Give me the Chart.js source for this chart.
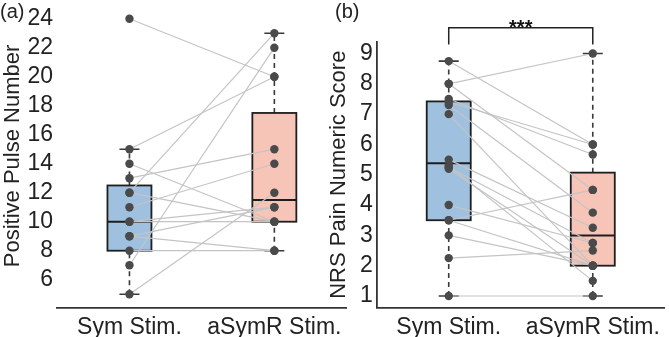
<!DOCTYPE html>
<html>
<head>
<meta charset="utf-8">
<script src="https://cdn.jsdelivr.net/npm/chart.js@4/dist/chart.umd.min.js"></script>
<style>
body{margin:0;background:#fff;width:669px;height:337px;position:relative;overflow:hidden;font-family:"Liberation Sans",Arial,sans-serif;}
canvas{position:absolute;top:0;}
.lbl{position:absolute;top:0px;font-size:20px;color:#222;}
</style>
</head>
<body>
<canvas id="chartA" width="351" height="337" style="left:0"></canvas>
<canvas id="chartB" width="343" height="337" style="left:326px"></canvas>
<div class="lbl" style="left:0">(a)</div>
<div class="lbl" style="left:335px">(b)</div>
<script>
// groups on the x axis
var groups = ["Sym Stim.", "aSymR Stim."];

// (a) positive pulse number, one entry per subject (sym -> asymR)
var pulseSym  = [24, 15, 14, 13, 12, 12, 11, 10, 10, 9, 9, 8, 7, 5];
var pulseASym = [20, 20, 10, 15, 23, 10, 14, 10, 11, 11, 8, 8, 22, 12];
var pulseTicks = [6, 8, 10, 12, 14, 16, 18, 20, 22, 24];
// whisker low, q1, median, q3, whisker high
var pulseBoxSym  = [5, 8, 10, 12.5, 15];
var pulseBoxASym = [8, 10, 11.5, 17.5, 23];

// (b) NRS pain score
var nrsSym  = [8.75, 8, 8, 7.5, 7.4, 7.3, 7, 5.5, 5.3, 5.25, 5.2, 4, 3.5, 3.5, 3, 2.25, 1];
var nrsASym = [6, 9, 4.5, 5.67, 6, 3.75, 2, 3.25, 1.5, 2.75, 2, 2.75, 4.5, 2, 2, 2.5, 1];
var nrsTicks = [1, 2, 3, 4, 5, 6, 7, 8, 9];
var nrsBoxSym  = [1, 3.5, 5.38, 7.42, 8.75];
var nrsBoxASym = [1, 2, 3, 5.07, 9];
var nrsSig = "***";
var nrsBracket = [9.85, 9.3];

var boxColors = ["#a0c0e0", "#f7c5b8"];
var textColor = "#222";
var fontFam = "'Liberation Sans', Arial, sans-serif";

function boxPlugin(stats){
    return {
        id: "boxes",
        beforeDatasetsDraw: function(chart){
            var ctx = chart.ctx;
            var xs = chart.scales.x, ys = chart.scales.y;
            ctx.save();
            for(var g = 0; g < stats.length; g++){
                var s = stats[g];
                var cx = xs.getPixelForValue(g);
                // whiskers
                ctx.strokeStyle = "#3a3a3a";
                ctx.lineWidth = 1.6;
                ctx.setLineDash([5, 4]);
                ctx.beginPath();
                ctx.moveTo(cx, ys.getPixelForValue(s[0]));
                ctx.lineTo(cx, ys.getPixelForValue(s[1]));
                ctx.moveTo(cx, ys.getPixelForValue(s[3]));
                ctx.lineTo(cx, ys.getPixelForValue(s[4]));
                ctx.stroke();
                ctx.setLineDash([]);
                // caps
                ctx.beginPath();
                ctx.moveTo(cx - 10, ys.getPixelForValue(s[0]));
                ctx.lineTo(cx + 10, ys.getPixelForValue(s[0]));
                ctx.moveTo(cx - 10, ys.getPixelForValue(s[4]));
                ctx.lineTo(cx + 10, ys.getPixelForValue(s[4]));
                ctx.stroke();
                // box
                var top = ys.getPixelForValue(s[3]);
                var bot = ys.getPixelForValue(s[1]);
                ctx.fillStyle = boxColors[g];
                ctx.fillRect(cx - 22, top, 44, bot - top);
                ctx.strokeStyle = "#1e1e1e";
                ctx.lineWidth = 1.8;
                ctx.strokeRect(cx - 22, top, 44, bot - top);
                // median
                ctx.lineWidth = 2;
                ctx.beginPath();
                ctx.moveTo(cx - 22, ys.getPixelForValue(s[2]));
                ctx.lineTo(cx + 22, ys.getPixelForValue(s[2]));
                ctx.stroke();
            }
            ctx.restore();
        }
    };
}

var sigPlugin = {
    id: "sig",
    afterDraw: function(chart){
        var ctx = chart.ctx;
        var xs = chart.scales.x, ys = chart.scales.y;
        var x0 = xs.getPixelForValue(0), x1 = xs.getPixelForValue(1);
        var yTop = ys.getPixelForValue(nrsBracket[0]);
        var yLeg = ys.getPixelForValue(nrsBracket[1]);
        ctx.save();
        ctx.strokeStyle = "#222";
        ctx.lineWidth = 1.5;
        ctx.beginPath();
        ctx.moveTo(x0, yLeg);
        ctx.lineTo(x0, yTop);
        ctx.lineTo(x1, yTop);
        ctx.lineTo(x1, yLeg);
        ctx.stroke();
        ctx.fillStyle = "#111";
        ctx.font = "bold 20px " + fontFam;
        ctx.textAlign = "center";
        ctx.textBaseline = "alphabetic";
        ctx.fillText(nrsSig, (x0 + x1) / 2, yTop + 6);
        ctx.restore();
    }
};

function makeChart(id, symVals, asymVals, stats, ticks, yMin, yMax, title, opts){
    var datasets = [];
    for(var i = 0; i < symVals.length; i++){
        datasets.push({
            data: [symVals[i], asymVals[i]],
            borderColor: "#c4c4c4",
            borderWidth: 1.2,
            pointRadius: 0,
            order: 2
        });
    }
    var pts = [];
    for(var a = 0; a < symVals.length; a++){
        pts.push({x: groups[0], y: symVals[a]});
        pts.push({x: groups[1], y: asymVals[a]});
    }
    datasets.push({
        type: "scatter",
        data: pts,
        showLine: false,
        pointRadius: 4.2,
        pointBackgroundColor: "#4a4a4a",
        pointBorderWidth: 0,
        order: 1
    });

    var plugins = [boxPlugin(stats)];
    if(opts.sig) plugins.push(sigPlugin);

    return new Chart(document.getElementById(id).getContext("2d"), {
        type: "line",
        data: { labels: groups, datasets: datasets },
        plugins: plugins,
        options: {
            responsive: false,
            animation: false,
            layout: { padding: { top: opts.top, right: opts.right, left: 0, bottom: 0 } },
            plugins: { legend: { display: false }, tooltip: { enabled: false } },
            scales: {
                x: {
                    type: "category",
                    offset: true,
                    grid: { display: true, drawOnChartArea: false, drawTicks: false },
                    border: { display: true, color: "#333", width: 1.8 },
                    ticks: { color: textColor, font: { family: fontFam, size: 23 }, padding: 6, maxRotation: 0 },
                    afterFit: function(s){ s.height = 29.3; s.paddingLeft = 0; s.paddingRight = 0; }
                },
                y: {
                    min: yMin,
                    max: yMax,
                    afterBuildTicks: function(s){ s.ticks = ticks.map(function(v){ return {value: v}; }); },
                    grid: { display: true, drawOnChartArea: false, drawTicks: false },
                    border: { display: opts.yBorder, color: "#333", width: 1.8 },
                    ticks: { color: textColor, font: { family: fontFam, size: 23 }, padding: 4 },
                    title: { display: true, text: title, color: textColor, font: { family: fontFam, size: 22 }, padding: 0 },
                    afterFit: function(s){ s.width = opts.yWidth; s.paddingTop = 0; s.paddingBottom = 0; }
                }
            }
        }
    });
}

makeChart("chartA", pulseSym, pulseASym, [pulseBoxSym, pulseBoxASym], pulseTicks, 4.07, 25,
    "Positive Pulse Number", { top: 0, right: 1, yWidth: 57, yBorder: false, sig: false });
makeChart("chartB", nrsSym, nrsASym, [nrsBoxSym, nrsBoxASym], nrsTicks, 0.614, 9.39,
    "NRS Pain Numeric Score", { top: 41.7, right: 0, yWidth: 50.7, yBorder: true, sig: true });
</script>
</body>
</html>
